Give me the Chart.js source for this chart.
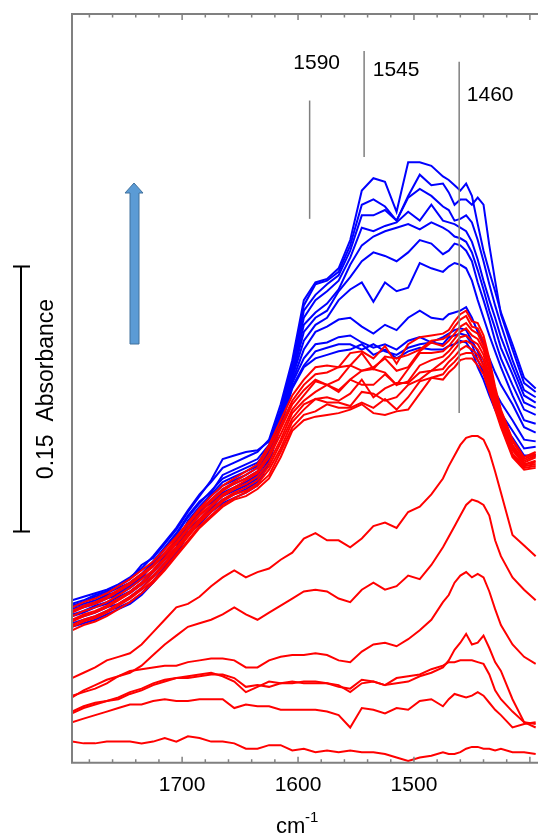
<!DOCTYPE html>
<html>
<head>
<meta charset="utf-8">
<title>IR spectra</title>
<script src="https://cdn.jsdelivr.net/npm/chart.js@4.4.1/dist/chart.umd.min.js"></script>
<style>
  html, body { margin: 0; padding: 0; background: #fff; }
  #wrap { width: 538px; height: 837px; }
</style>
</head>
<body>
<div id="wrap"><canvas id="spectra" width="538" height="837"></canvas></div>
<script>
// wavenumber grid in cm-1 (axis runs high -> low)
const wavenumbers = [1795, 1785, 1775, 1765, 1755, 1745, 1735, 1725, 1715, 1705, 1695, 1685, 1675, 1665, 1655, 1645,
  1635, 1625, 1615, 1605, 1595, 1585, 1575, 1565, 1555, 1545, 1535, 1525, 1515, 1505, 1495, 1485, 1475,
  1470, 1465, 1460, 1455, 1450, 1445, 1440, 1435, 1430, 1425, 1415, 1405, 1395];
const xTicks = [1700, 1600, 1500];
const peakPositions = [1590, 1543, 1461];
const peakLabels = ['1590', '1545', '1460'];

// absorbance values, mAbs
const blue1 = [92, 94, 96, 98, 101, 105, 110, 117, 125, 133, 143, 152, 159, 167, 170, 173, 176, 183, 203, 228,
  262, 272, 274, 280, 296, 324, 331, 329, 312, 340, 340, 338, 332, 330, 327, 324, 328, 321, 305, 290, 278, 267, 255, 237, 218, 212];
const blue2 = [90, 92, 95, 97, 100, 104, 112, 116, 124, 132, 142, 151, 160, 172, 174, 176, 177, 182, 200, 226,
  259, 271, 273, 278, 293, 316, 319, 315, 307, 321, 333, 327, 328, 323, 316, 319, 319, 316, 320, 316, 293, 273, 254, 234, 215, 210];
const blue3 = [89, 91, 94, 96, 99, 102, 107, 114, 122, 130, 140, 148, 153, 163, 166, 169, 172, 180, 198, 224,
  256, 265, 271, 276, 290, 310, 310, 313, 307, 320, 325, 321, 315, 313, 307, 308, 310, 306, 296, 284, 271, 259, 248, 228, 211, 207];
const blue4 = [88, 90, 92, 95, 97, 101, 106, 113, 121, 129, 139, 147, 154, 161, 164, 167, 170, 178, 196, 222,
  252, 262, 267, 273, 286, 303, 301, 304, 306, 312, 307, 316, 307, 306, 305, 303, 301, 295, 285, 273, 262, 252, 241, 224, 208, 204];
const blue5 = [87, 89, 91, 94, 96, 100, 105, 112, 119, 124, 137, 145, 152, 159, 162, 165, 168, 177, 195, 220,
  248, 255, 260, 268, 282, 293, 298, 301, 303, 305, 302, 306, 303, 301, 298, 297, 295, 289, 279, 268, 256, 246, 235, 220, 204, 201];
const blue6 = [86, 88, 90, 93, 95, 99, 104, 114, 118, 126, 136, 144, 151, 157, 160, 163, 167, 176, 194, 219,
  244, 252, 256, 267, 275, 284, 289, 287, 284, 289, 296, 294, 288, 290, 294, 293, 290, 284, 272, 262, 251, 239, 229, 214, 200, 197];
const blue7 = [84, 86, 89, 91, 94, 97, 102, 109, 117, 124, 135, 142, 149, 155, 158, 161, 165, 175, 193, 218,
  239, 248, 252, 262, 268, 272, 261, 272, 267, 269, 283, 280, 278, 281, 283, 282, 280, 273, 262, 252, 242, 233, 224, 208, 194, 192];
const blue8 = [83, 85, 88, 90, 93, 96, 101, 108, 115, 122, 133, 143, 147, 153, 156, 159, 163, 174, 192, 216,
  234, 244, 247, 251, 252, 247, 243, 248, 245, 252, 256, 252, 251, 254, 255, 256, 258, 252, 244, 237, 229, 221, 214, 203, 190, 187];
const blue9 = [81, 83, 85, 88, 90, 94, 99, 106, 113, 121, 132, 138, 145, 151, 154, 157, 161, 172, 192, 215,
  229, 237, 238, 241, 242, 238, 235, 237, 234, 239, 241, 238, 241, 243, 245, 246, 245, 239, 233, 225, 218, 210, 204, 194, 183, 182];
const blue10 = [79, 81, 83, 86, 88, 91, 96, 103, 111, 119, 130, 137, 144, 149, 152, 155, 159, 171, 191, 213,
  225, 233, 235, 237, 237, 234, 237, 233, 231, 235, 237, 238, 237, 241, 242, 243, 242, 237, 228, 221, 212, 204, 198, 188, 178, 179];
const blue11 = [77, 79, 81, 84, 87, 90, 95, 102, 110, 118, 129, 135, 142, 147, 150, 153, 157, 170, 191, 212,
  224, 229, 231, 233, 234, 237, 231, 234, 229, 233, 235, 234, 234, 236, 237, 239, 238, 233, 224, 217, 208, 200, 193, 184, 174, 174];

const red1 = [88, 91, 93, 96, 100, 104, 109, 114, 121, 128, 136, 144, 151, 157, 161, 165, 169, 180, 194, 208,
  217, 224, 225, 224, 232, 233, 229, 236, 226, 237, 241, 242, 243, 245, 250, 254, 256, 250, 249, 242, 229, 213, 200, 183, 173, 176];
const red2 = [86, 89, 91, 94, 98, 102, 107, 112, 119, 127, 135, 143, 149, 155, 159, 163, 167, 178, 191, 205,
  214, 220, 221, 224, 225, 232, 223, 230, 229, 231, 234, 239, 240, 242, 247, 251, 253, 247, 246, 239, 227, 211, 199, 182, 172, 175];
const red3 = [85, 88, 90, 93, 97, 101, 106, 111, 118, 125, 133, 141, 148, 154, 158, 161, 165, 175, 189, 203,
  211, 217, 214, 217, 225, 222, 224, 229, 222, 224, 233, 238, 236, 239, 243, 247, 249, 245, 243, 236, 224, 210, 197, 180, 171, 174];
const red4 = [83, 86, 88, 91, 95, 99, 104, 109, 116, 124, 132, 140, 146, 152, 156, 160, 164, 173, 186, 200,
  208, 216, 214, 210, 217, 222, 223, 221, 214, 223, 232, 232, 233, 236, 240, 244, 246, 242, 240, 234, 222, 208, 196, 179, 170, 173];
const red5 = [81, 84, 86, 89, 93, 97, 102, 108, 115, 122, 130, 138, 145, 151, 155, 158, 162, 170, 183, 198,
  205, 210, 214, 211, 217, 214, 214, 220, 214, 216, 225, 228, 230, 233, 237, 241, 242, 239, 237, 231, 219, 206, 195, 178, 169, 171];
const red6 = [80, 83, 85, 88, 92, 96, 101, 106, 113, 121, 129, 137, 143, 149, 153, 156, 160, 168, 181, 195,
  203, 206, 207, 205, 209, 217, 207, 212, 215, 215, 221, 222, 227, 230, 234, 238, 239, 237, 234, 228, 217, 205, 194, 177, 169, 170];
const red7 = [78, 81, 83, 86, 90, 94, 99, 105, 112, 120, 128, 136, 142, 148, 152, 154, 158, 166, 178, 193,
  200, 206, 204, 204, 202, 210, 209, 205, 207, 214, 217, 222, 223, 227, 230, 234, 236, 234, 231, 225, 215, 203, 192, 175, 168, 169];
const red8 = [77, 80, 82, 85, 89, 93, 98, 103, 110, 118, 126, 134, 140, 146, 150, 153, 157, 163, 176, 190,
  197, 199, 203, 201, 201, 204, 201, 206, 200, 207, 216, 218, 220, 224, 227, 231, 232, 232, 228, 223, 212, 202, 191, 174, 167, 168];
const red9 = [75, 78, 80, 83, 87, 91, 96, 102, 109, 117, 125, 133, 139, 145, 149, 151, 155, 161, 173, 188,
  194, 196, 197, 198, 200, 203, 198, 197, 199, 200, 209, 218, 217, 221, 224, 228, 229, 229, 225, 220, 210, 200, 190, 173, 166, 167];

// the separated lower red spectra, top to bottom
const redLowA = [48, 51, 54, 58, 60, 62, 67, 74, 81, 88, 90, 94, 100, 105, 109, 105, 108, 110, 115, 119,
  127, 130, 126, 126, 122, 127, 134, 136, 133, 142, 145, 152, 161, 168, 174, 180, 184, 185, 185, 183, 176, 165, 153, 129, 123, 117];
const redLowB = [38, 40, 42, 45, 49, 51, 55, 61, 67, 72, 77, 79, 81, 84, 88, 84, 81, 85, 89, 93,
  97, 98, 97, 93, 91, 98, 102, 98, 100, 106, 104, 112, 122, 128, 134, 140, 146, 149, 148, 146, 140, 126, 117, 105, 98, 92];
const redLowC = [37, 41, 44, 47, 49, 52, 53, 54, 55, 55, 57, 58, 59, 59, 58, 54, 54, 58, 60, 61,
  61, 62, 61, 58, 57, 63, 67, 68, 66, 70, 75, 81, 91, 95, 102, 106, 108, 105, 107, 105, 97, 87, 78, 67, 60, 56];
const redLowD = [29, 32, 34, 35, 37, 40, 42, 45, 47, 48, 48, 49, 50, 50, 48, 43, 44, 43, 45, 46,
  45, 45, 45, 44, 40, 45, 46, 44, 45, 46, 49, 51, 54, 58, 64, 68, 73, 67, 68, 72, 65, 57, 52, 36, 23, 22];
const redLowE = [28, 31, 33, 35, 36, 39, 41, 44, 46, 48, 49, 50, 51, 49, 46, 40, 43, 46, 45, 45,
  46, 46, 45, 43, 42, 47, 46, 44, 48, 49, 50, 53, 55, 57, 57, 58, 58, 58, 57, 56, 50, 41, 36, 29, 23, 20];
const redLowF = [23, 25, 27, 29, 31, 33, 33, 35, 36, 35, 35, 36, 36, 36, 31, 33, 32, 32, 30, 30,
  30, 30, 29, 27, 20, 31, 30, 28, 31, 30, 35, 36, 32, 36, 39, 38, 37, 38, 40, 38, 34, 30, 27, 20, 22, 23];
const redLowG = [12, 11, 11, 12, 12, 12, 11, 12, 14, 12, 15, 14, 12, 12, 11, 8, 8, 10, 10, 7,
  8, 6, 7, 6, 7, 6, 6, 5, 3, 1, 3, 4, 6, 5, 5, 6, 8, 9, 9, 8, 8, 7, 8, 6, 6, 5];

const redSeries = [red1, red2, red3, red4, red5, red6, red7, red8, red9,
  redLowA, redLowB, redLowC, redLowD, redLowE, redLowF, redLowG];
const blueSeries = [blue1, blue2, blue3, blue4, blue5, blue6, blue7, blue8, blue9, blue10, blue11];

const FONT = "'Liberation Sans', Arial, sans-serif";
const AXIS_GREY = '#808080';

function toDataset(values, colour) {
  return {
    data: values.map((v, i) => ({ x: wavenumbers[i], y: v })),
    borderColor: colour,
    borderWidth: 2,
    pointRadius: 0,
    tension: 0,
    fill: false,
  };
}

// red first so it is painted on top of the blue bundle
const datasets = redSeries.map((s) => toDataset(s, '#ff0000'))
  .concat(blueSeries.map((s) => toDataset(s, '#0000ff')));

// frame, inward ticks, peak markers, scale bar and arrow
const decorations = {
  id: 'decorations',
  afterDatasetsDraw(chart) {
    const { ctx, chartArea: area, scales } = chart;
    const x = scales.x;
    const y = scales.y;
    ctx.save();

    ctx.strokeStyle = AXIS_GREY;
    ctx.lineWidth = 2;
    ctx.beginPath();
    ctx.moveTo(area.right + 2, area.top);
    ctx.lineTo(area.left, area.top);
    ctx.lineTo(area.left, area.bottom);
    ctx.lineTo(area.right + 2, area.bottom);
    ctx.stroke();

    ctx.lineWidth = 1.5;
    ctx.beginPath();
    for (let wn = 1780; wn >= 1400; wn -= 20) {
      const px = x.getPixelForValue(wn);
      const len = wn % 100 === 0 ? 6 : 3.5;
      ctx.moveTo(px, area.bottom);
      ctx.lineTo(px, area.bottom - len);
      ctx.moveTo(px, area.top);
      ctx.lineTo(px, area.top + len);
    }
    ctx.stroke();

    // peak markers
    const lineSpans = [[375, 308], [403, 343], [397, 198]];
    const labelDx = [7, 32, 31];
    const labelBase = [393, 389, 375];
    ctx.strokeStyle = '#7f7f7f';
    ctx.lineWidth = 1.5;
    ctx.fillStyle = '#000';
    ctx.font = '21px ' + FONT;
    ctx.textAlign = 'center';
    ctx.textBaseline = 'alphabetic';
    peakPositions.forEach((wn, i) => {
      const px = x.getPixelForValue(wn);
      ctx.beginPath();
      ctx.moveTo(px, y.getPixelForValue(lineSpans[i][0]));
      ctx.lineTo(px, y.getPixelForValue(lineSpans[i][1]));
      ctx.stroke();
      ctx.fillText(peakLabels[i], px + labelDx[i], y.getPixelForValue(labelBase[i]));
    });

    // 0.15 absorbance scale bar
    const barTop = y.getPixelForValue(281);
    const barBottom = y.getPixelForValue(131);
    ctx.strokeStyle = '#000';
    ctx.lineWidth = 2;
    ctx.beginPath();
    ctx.moveTo(21, barTop);
    ctx.lineTo(21, barBottom);
    ctx.moveTo(13, barTop);
    ctx.lineTo(30, barTop);
    ctx.moveTo(13, barBottom);
    ctx.lineTo(30, barBottom);
    ctx.stroke();

    ctx.save();
    ctx.translate(53, (barTop + barBottom) / 2 - 10);
    ctx.rotate(-Math.PI / 2);
    ctx.font = '23px ' + FONT;
    ctx.textAlign = 'center';
    ctx.fillText('0.15  Absorbance', 0, 0);
    ctx.restore();

    // growth arrow
    ctx.fillStyle = '#5b9bd5';
    ctx.strokeStyle = '#41719c';
    ctx.lineWidth = 1;
    ctx.beginPath();
    ctx.moveTo(130, 344);
    ctx.lineTo(130, 193);
    ctx.lineTo(125, 193);
    ctx.lineTo(134, 183);
    ctx.lineTo(143, 193);
    ctx.lineTo(139, 193);
    ctx.lineTo(139, 344);
    ctx.closePath();
    ctx.fill();
    ctx.stroke();

    // axis title cm-1
    ctx.fillStyle = '#000';
    ctx.textAlign = 'left';
    ctx.font = '22px ' + FONT;
    ctx.fillText('cm', 276, 833);
    ctx.font = '15px ' + FONT;
    ctx.fillText('-1', 305, 822);

    ctx.restore();
  },
};

new Chart(document.getElementById('spectra'), {
  type: 'line',
  data: { datasets: datasets },
  options: {
    responsive: false,
    animation: false,
    devicePixelRatio: 1,
    layout: { padding: { left: 72, top: 14, right: 0, bottom: 29 } },
    plugins: { legend: { display: false }, tooltip: { enabled: false } },
    scales: {
      x: {
        type: 'linear',
        reverse: true,
        min: 1393,
        max: 1795,
        grid: { display: false, drawTicks: false },
        border: { display: false },
        afterBuildTicks: (axis) => {
          axis.ticks = xTicks.map((v) => ({ value: v }));
        },
        ticks: {
          color: '#000',
          padding: 10,
          autoSkip: false,
          maxRotation: 0,
          font: { family: FONT, size: 21 },
          callback: (value) => String(value),
        },
      },
      y: { display: false, min: 0, max: 424 },
    },
  },
  plugins: [decorations],
});
</script>
</body>
</html>
